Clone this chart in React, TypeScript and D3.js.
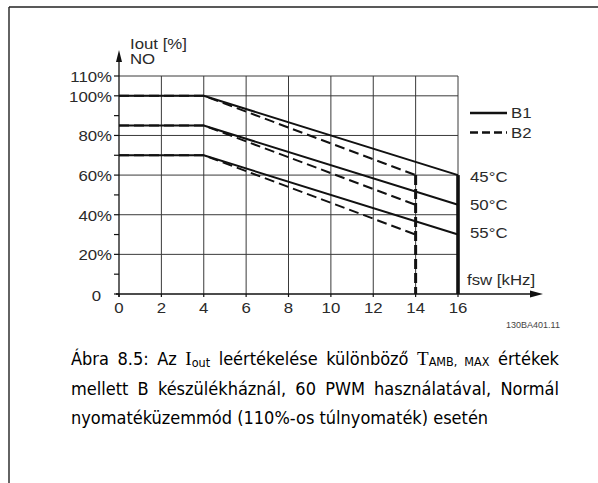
import React, { useLayoutEffect, useRef } from "react";
import * as d3 from "d3";

// ---- data ----
const fswB1 = [0, 4, 16];
const fswB2 = [0, 4, 14];
const temps = ["45°C", "50°C", "55°C"];
const b1Values = [
  [100, 100, 60],
  [85, 85, 45],
  [70, 70, 30],
];
const b2Values = [
  [100, 100, 60],
  [85, 85, 45],
  [70, 70, 30],
];
const xTicks = [0, 2, 4, 6, 8, 10, 12, 14, 16];
const yTicks = [0, 20, 40, 60, 80, 100, 110];
const yTickLabels = ["0", "20%", "40%", "60%", "80%", "100%", "110%"];
const yMinorTicks = [10, 30, 50, 70, 90];
const legendNames = ["B1", "B2"];

const W = 598;
const H = 483;
const CHART_FONT = "'Liberation Sans', Arial, sans-serif";
const CAP_FONT = "'DejaVu Sans Condensed', 'DejaVu Sans', sans-serif";
const SERIF = "'Liberation Serif', 'Times New Roman', serif";

function SText(props: any) {
  const { x, y, anchor = "start", size = 14, sx = 1.2, fill = "#2a2a2a", children } = props;
  return (
    <text
      transform={`translate(${x},${y}) scale(${sx},1)`}
      textAnchor={anchor}
      fontFamily={CHART_FONT}
      fontSize={size}
      fill={fill}
    >
      {children}
    </text>
  );
}

export default function App() {
  const x = d3.scaleLinear().domain([0, 16]).range([119, 458]);
  const y = d3.scaleLinear().domain([0, 110]).range([294, 76]);
  const line = d3
    .line<[number, number]>()
    .x((d) => x(d[0]))
    .y((d) => y(d[1]));

  const l1 = useRef<SVGTextElement>(null);
  const l2 = useRef<SVGTextElement>(null);

  useLayoutEffect(() => {
    const target = 488;
    [l1.current, l2.current].forEach((el) => {
      if (!el) return;
      el.style.wordSpacing = "0px";
      const w = el.getComputedTextLength();
      const spaces = (el.textContent || "").split(" ").length - 1;
      if (spaces > 0) el.style.wordSpacing = `${(target - w) / spaces}px`;
    });
  }, []);

  const xMax = d3.max(fswB1) as number;
  const gridColor = "#3a3a3a";

  return (
    <svg
      width={W}
      height={H}
      style={{ position: "absolute", left: 0, top: 0, background: "#fff" }}
    >
      {/* frame */}
      <line x1={9} y1={7} x2={W} y2={7} stroke="#222" strokeWidth={1.4} />
      <line x1={9} y1={7} x2={9} y2={H} stroke="#222" strokeWidth={1.4} />

      {/* grid */}
      {xTicks.slice(1).map((t) => (
        <line key={"vx" + t} x1={x(t)} x2={x(t)} y1={y(0)} y2={y(110)} stroke={gridColor} strokeWidth={1} />
      ))}
      {yTicks.slice(1).map((t) => (
        <line key={"hy" + t} x1={x(0)} x2={x(xMax)} y1={y(t)} y2={y(t)} stroke={gridColor} strokeWidth={1} />
      ))}

      {/* y axis */}
      <line x1={x(0)} x2={x(0)} y1={y(0) + 3} y2={60} stroke="#111" strokeWidth={1.3} />
      <path d={`M${x(0)},50 L${x(0) - 3},62 L${x(0) + 3},62 Z`} fill="#111" />
      {yTicks.map((t) => (
        <line key={"yt" + t} x1={x(0) - 5} x2={x(0)} y1={y(t)} y2={y(t)} stroke="#111" strokeWidth={1.2} />
      ))}
      {yMinorTicks.map((t) => (
        <line key={"ym" + t} x1={x(0) - 5} x2={x(0)} y1={y(t)} y2={y(t)} stroke="#111" strokeWidth={1.2} />
      ))}
      {yTicks.map((t, i) => (
        <SText key={"yl" + t} x={t === 0 ? 101 : 112} y={y(t) + (t === 0 ? 7 : 6)} anchor="end">
          {yTickLabels[i]}
        </SText>
      ))}
      <SText x={130} y={49}>Iout [%]</SText>
      <SText x={130} y={64}>NO</SText>

      {/* x axis */}
      <line x1={x(0) - 3} x2={532} y1={y(0)} y2={y(0)} stroke="#111" strokeWidth={1.3} />
      <path d={`M543,${y(0)} L530,${y(0) - 3.5} L530,${y(0) + 3.5} Z`} fill="#111" />
      {xTicks.map((t) => (
        <line key={"xt" + t} x1={x(t)} x2={x(t)} y1={y(0)} y2={y(0) + 3} stroke="#111" strokeWidth={1.2} />
      ))}
      {xTicks.map((t) => (
        <SText key={"xl" + t} x={x(t)} y={313} anchor="middle">
          {String(t)}
        </SText>
      ))}
      <SText x={467} y={285}>fsw [kHz]</SText>

      {/* B2 dashed curves */}
      {b2Values.map((vals, i) => (
        <path
          key={"b2" + i}
          d={line(fswB2.map((f, j) => [f, vals[j]]) as [number, number][]) || ""}
          fill="none"
          stroke="#111"
          strokeWidth={2}
          strokeDasharray="10,5"
        />
      ))}
      {/* B1 solid curves */}
      {b1Values.map((vals, i) => (
        <path
          key={"b1" + i}
          d={line(fswB1.map((f, j) => [f, vals[j]]) as [number, number][]) || ""}
          fill="none"
          stroke="#111"
          strokeWidth={2}
        />
      ))}
      {/* vertical limits */}
      <line
        x1={x(fswB2[fswB2.length - 1])}
        x2={x(fswB2[fswB2.length - 1])}
        y1={y(b2Values[0][2])}
        y2={y(0)}
        stroke="#111"
        strokeWidth={3}
        strokeDasharray="10,4"
      />
      <line
        x1={x(fswB1[fswB1.length - 1])}
        x2={x(fswB1[fswB1.length - 1])}
        y1={y(b1Values[0][2])}
        y2={y(0)}
        stroke="#111"
        strokeWidth={3.6}
      />

      {/* temperature labels */}
      {temps.map((t, i) => (
        <SText key={t} x={470} y={y(b1Values[i][2]) + [7, 5, 3][i]}>
          {t}
        </SText>
      ))}

      {/* legend */}
      <line x1={470} x2={507} y1={113} y2={113} stroke="#111" strokeWidth={2.5} />
      <line x1={470} x2={507} y1={132.5} y2={132.5} stroke="#111" strokeWidth={2.5} strokeDasharray="8,4" />
      <SText x={511} y={118}>{legendNames[0]}</SText>
      <SText x={511} y={137.5}>{legendNames[1]}</SText>

      {/* code */}
      <SText x={506} y={328} size={9} sx={1} fill="#444">
        130BA401.11
      </SText>

      {/* caption */}
      <g fontFamily={CAP_FONT} fontSize={18} fill="#000" style={{ fontStretch: "condensed" }}>
        <text ref={l1} x={71} y={365}>
          Ábra 8.5: Az <tspan fontFamily={SERIF} fontSize={19}>I</tspan>
          <tspan fontSize={12.5} dy={1.5}>out</tspan>
          <tspan dy={-1.5}> leértékelése különböző </tspan>
          <tspan fontFamily={SERIF} fontSize={19}>T</tspan>
          <tspan fontSize={12.5} dy={1}>AMB, MAX</tspan>
          <tspan dy={-1}> értékek</tspan>
        </text>
        <text ref={l2} x={71} y={395}>
          mellett B készülékháznál, 60 PWM használatával, Normál
        </text>
        <text x={71} y={424}>
          nyomatéküzemmód (110%-os túlnyomaték) esetén
        </text>
      </g>
    </svg>
  );
}
